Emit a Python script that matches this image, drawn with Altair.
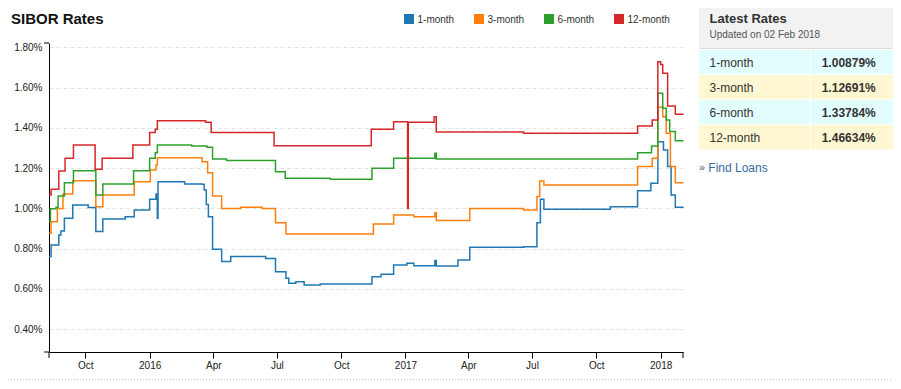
import altair as alt
import pandas as pd

# ---------------- data ----------------
series = ["1-month", "3-month", "6-month", "12-month"]
colors = ["#1f77b4", "#ff7f0e", "#2ca02c", "#d62728"]
latest_rates = ["1.00879%", "1.12691%", "1.33784%", "1.46634%"]

chart_title = "SIBOR Rates"
panel_title = "Latest Rates"
updated_text = "Updated on 02 Feb 2018"
link_text = "Find Loans"

dates_1m = ["2015-08-10", "2015-08-13", "2015-08-24", "2015-08-27", "2015-09-01", "2015-09-13",
            "2015-10-05", "2015-10-16", "2015-10-26", "2015-11-27", "2015-12-10", "2016-01-01",
            "2016-01-10", "2016-01-12", "2016-01-13", "2016-02-20", "2016-03-16", "2016-03-19",
            "2016-03-22", "2016-03-25", "2016-03-31", "2016-04-13", "2016-04-26", "2016-06-15",
            "2016-06-29", "2016-07-14", "2016-07-18", "2016-07-28", "2016-08-09", "2016-09-01",
            "2016-11-14", "2016-11-27", "2016-12-15", "2017-01-03", "2017-01-13", "2017-02-12",
            "2017-02-14", "2017-03-17", "2017-04-03", "2017-06-19", "2017-07-08", "2017-07-13",
            "2017-07-18", "2017-10-21", "2017-11-29", "2017-12-18", "2017-12-28", "2018-01-05",
            "2018-01-11", "2018-01-16", "2018-01-22", "2018-02-02"]
rate_1m = [0.761, 0.819, 0.868, 0.888, 0.951, 1.017, 1.005, 0.885, 0.948, 0.959,
           0.993, 1.046, 1.072, 0.951, 1.133, 1.122, 1.120, 1.092, 1.020, 0.959,
           0.797, 0.736, 0.761, 0.752, 0.686, 0.653, 0.628, 0.636, 0.620, 0.625,
           0.661, 0.673, 0.719, 0.728, 0.715, 0.741, 0.714, 0.744, 0.807, 0.810,
           0.929, 1.046, 0.996, 1.009, 1.088, 1.125, 1.332, 1.290, 1.208, 1.067,
           1.006, 1.009]

dates_3m = ["2015-08-10", "2015-08-13", "2015-08-22", "2015-08-30", "2015-09-13", "2015-10-16",
            "2015-10-26", "2015-12-10", "2016-01-02", "2016-01-10", "2016-01-12", "2016-03-16",
            "2016-03-24", "2016-03-31", "2016-04-13", "2016-05-10", "2016-06-10", "2016-06-29",
            "2016-07-14", "2016-11-16", "2016-12-15", "2017-01-13", "2017-02-12", "2017-02-14",
            "2017-04-03", "2017-06-19", "2017-07-08", "2017-07-12", "2017-07-18", "2017-11-29",
            "2017-12-20", "2017-12-28", "2018-01-04", "2018-01-09", "2018-01-15", "2018-01-22",
            "2018-02-02"]
rate_3m = [0.877, 0.934, 1.000, 1.072, 1.138, 1.009, 1.067, 1.133, 1.191, 1.216,
           1.252, 1.232, 1.178, 1.062, 1.000, 1.006, 1.000, 0.929, 0.873, 0.923,
           0.968, 0.959, 0.979, 0.940, 1.000, 0.993, 1.059, 1.137, 1.117, 1.208,
           1.249, 1.503, 1.456, 1.374, 1.208, 1.128, 1.127]

dates_6m = ["2015-08-10", "2015-08-12", "2015-08-20", "2015-08-23", "2015-09-01", "2015-09-14",
            "2015-10-16", "2015-10-26", "2015-12-09", "2016-01-01", "2016-01-09", "2016-01-12",
            "2016-03-01", "2016-03-23", "2016-03-31", "2016-04-20", "2016-06-29", "2016-07-13",
            "2016-09-15", "2016-11-14", "2016-12-15", "2017-02-12", "2017-02-14", "2017-11-29",
            "2017-12-19", "2017-12-28", "2018-01-04", "2018-01-09", "2018-01-14", "2018-01-22",
            "2018-02-02"]
rate_6m = [0.934, 0.998, 1.006, 1.062, 1.128, 1.188, 1.067, 1.122, 1.188, 1.249,
           1.277, 1.315, 1.310, 1.304, 1.246, 1.238, 1.183, 1.150, 1.145, 1.200,
           1.249, 1.274, 1.246, 1.277, 1.310, 1.572, 1.498, 1.440, 1.382, 1.337,
           1.338]

dates_12m = ["2015-08-10", "2015-08-13", "2015-08-24", "2015-09-02", "2015-09-14", "2015-10-15",
             "2015-10-25", "2015-12-08", "2016-01-01", "2016-01-09", "2016-01-12", "2016-03-21",
             "2016-03-29", "2016-06-27", "2016-11-13", "2016-12-15", "2017-01-04", "2017-01-05",
             "2017-02-11", "2017-02-14", "2017-06-19", "2017-11-29", "2017-12-20", "2017-12-28",
             "2018-01-01", "2018-01-04", "2018-01-11", "2018-01-22", "2018-02-02"]
rate_12m = [1.067, 1.095, 1.186, 1.249, 1.315, 1.195, 1.249, 1.315, 1.377, 1.393,
            1.436, 1.428, 1.377, 1.312, 1.393, 1.431, 1.000, 1.428, 1.456, 1.380,
            1.374, 1.410, 1.440, 1.729, 1.715, 1.672, 1.509, 1.468, 1.466]

tick_dates = ["2015-10-01", "2016-01-01", "2016-04-01", "2016-07-01", "2016-10-01",
              "2017-01-01", "2017-04-01", "2017-07-01", "2017-10-01", "2018-01-01"]
y_ticks = [0.4, 0.6, 0.8, 1.0, 1.2, 1.4, 1.6, 1.8]
x_start, x_end = "2015-08-10", "2018-02-02"
y_min, y_max = 0.287, 1.822

all_dates = [dates_1m, dates_3m, dates_6m, dates_12m]
all_rates = [rate_1m, rate_3m, rate_6m, rate_12m]

df = pd.concat(
    [pd.DataFrame({"date": d, "rate": r, "series": s}) for s, d, r in zip(series, all_dates, all_rates)],
    ignore_index=True,
)
one = pd.DataFrame({"k": [0]})

FONT = "Liberation Sans"
W, H = 634, 309


def dt(s):
    y, m, d = map(int, s.split("-"))
    return alt.DateTime(year=y, month=m, date=d, utc=True)


x_enc = alt.X(
    "date:T",
    title=None,
    scale=alt.Scale(type="utc", domain=[dt(x_start), dt(x_end)], nice=False),
    axis=alt.Axis(
        values=[dt(s) for s in tick_dates],
        labelExpr="utcFormat(datum.value, '%m') == '01' ? utcFormat(datum.value, '%Y') : utcFormat(datum.value, '%b')",
        tickSize=6, tickColor="#000", domainColor="#000", domainWidth=1,
        labelFont=FONT, labelFontSize=10, labelColor="#222", labelPadding=2,
        grid=False, labelFlush=False, labelOverlap=False,
    ),
)
y_enc = alt.Y(
    "rate:Q",
    title=None,
    scale=alt.Scale(domain=[y_min, y_max], nice=False, zero=False),
    axis=alt.Axis(
        values=y_ticks,
        labelExpr="format(datum.value, '.2f') + '%'",
        ticks=False, tickSize=0, domainColor="#000", domainWidth=1,
        labelFont=FONT, labelFontSize=10, labelColor="#222", labelPadding=7,
        grid=True, gridColor="#e3e3e3", gridDash=[4, 3], gridWidth=1,
        labelFlush=False, labelOverlap=False,
    ),
)

layers = []
for s, c in zip(series, colors):
    layers.append(
        alt.Chart(df).transform_filter(alt.datum.series == s)
        .mark_line(color=c, strokeWidth=1.5, interpolate="step-after")
        .encode(x=x_enc, y=y_enc)
    )


def rule(x1, x2, y1, y2, color="#000", **kw):
    return alt.Chart(one).mark_rule(color=color, **kw).encode(
        x=alt.value(x1), x2=alt.value(x2), y=alt.value(y1), y2=alt.value(y2))


def rect(x1, x2, y1, y2, color):
    return alt.Chart(one).mark_rect(color=color).encode(
        x=alt.value(x1), x2=alt.value(x2), y=alt.value(y1), y2=alt.value(y2))


def text(t, x, y, size=10, weight="normal", color="#333", baseline="alphabetic"):
    return alt.Chart(one).mark_text(
        align="left", baseline=baseline, font=FONT, fontSize=size, fontWeight=weight, color=color
    ).encode(x=alt.value(x), y=alt.value(y), text=alt.value(t))


# outer ticks of the axes
layers += [
    rule(-5, 0, 0, 0), rule(-5, 0, H, H),
    rule(0, 0, H, H + 6), rule(W, W, H, H + 6),
]

# title
layers.append(text(chart_title, -38, -19, size=15, weight="bold", color="#111"))

# legend
for i, (s, c) in enumerate(zip(series, colors)):
    sx = 355 + 70 * i
    layers.append(rect(sx, sx + 10, -29, -19, c))
    layers.append(text(s, sx + 13.5, -20.5, size=10, color="#333"))

# right panel
PX0, PX1, PDIV = 650, 844, 761
layers.append(rect(PX0, PX1, -38, 5, "#f2f2f2"))
layers.append(rule(PX0, PX1, 5.5, 5.5, color="#dcdcdc"))
layers.append(text(panel_title, 660.5, -20, size=13, weight="bold", color="#333"))
layers.append(text(updated_text, 660.5, -5.5, size=10, color="#555"))
row_colors = ["#e2fdfe", "#fff7d1"]
for i, (s, v) in enumerate(zip(series, latest_rates)):
    top = 7 + 25 * i
    fill = row_colors[i % 2]
    layers.append(rect(PX0, PDIV, top, top + 24, fill))
    layers.append(rect(PDIV + 1, PX1, top, top + 24, fill))
    layers.append(text(s, 660.5, top + 12.5, size=12, color="#333", baseline="middle"))
    layers.append(text(v, 772.7, top + 12.5, size=12, weight="bold", color="#333", baseline="middle"))
layers.append(text("»", 650, 125, size=11, color="#555", baseline="middle"))
layers.append(text(link_text, 659.3, 124.7, size=12, color="#3b6aa0", baseline="middle"))

# bottom dotted separator
layers.append(rule(-41, PX1, 336.5, 336.5, color="#c8c8c8", strokeDash=[1, 2]))

chart = alt.layer(*layers).properties(
    width=W, height=H,
    padding={"left": 41, "top": 35, "right": 210, "bottom": 28},
    autosize=alt.AutoSizeParams(type="none"),
).configure_view(strokeWidth=0)

chart.save("out.html", embed_options={"renderer": "svg", "actions": False})
